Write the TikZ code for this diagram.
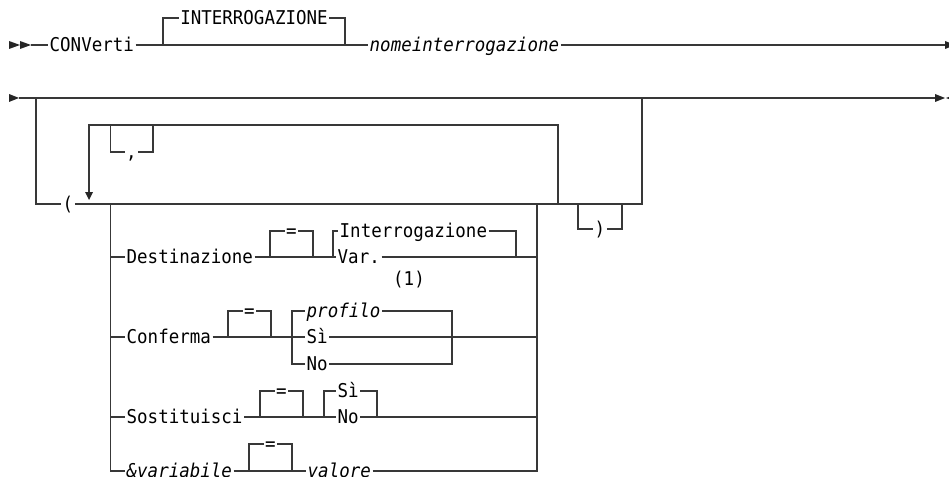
\documentclass[tikz,border=0pt]{standalone}
\usepackage{fontspec}
\newfontfamily\rrfont{DejaVu Sans Mono}[FakeStretch=0.92,ItalicFont={DejaVu Sans Mono Oblique}]
\tikzset{
  kw/.style  ={font=\rrfont\fontsize{19}{22}\selectfont, inner xsep=1.5pt,
               inner ysep=0pt, text height=13.6pt, text depth=0pt},
  vr/.style  ={kw, font=\rrfont\itshape\fontsize{19}{22}\selectfont},
  ln/.style  ={draw=black!78, line width=1.2pt},
  tip/.style ={fill=black!85},
}
\begin{document}
\begin{tikzpicture}[x=1pt,y=-1pt]
\useasboundingbox (0,0) rectangle (949,476);

% first line
\fill[tip] (9,41) -- (20,45) -- (9,49) -- cycle;
\fill[tip] (20,41) -- (31,45) -- (20,49) -- cycle;
\node[kw,anchor=west] (conv) at (48,45) {CONVerti};
\node[kw] (intq) at (254,18) {INTERROGAZIONE};
\node[vr,anchor=west] (nome) at (368,45) {nomeinterrogazione};
\coordinate (r1a) at (31,45);
\coordinate (r1b) at (945,45);
\coordinate (bpL) at (163,45);
\coordinate (bpR) at (345,45);
\draw[ln] (r1a) -- (conv.west) (conv.east) -- (nome.west) (nome.east) -- (r1b);
\draw[ln] (bpL) |- (intq.west) (intq.east) -| (bpR);
\fill[tip] (945,41) -- (955,45) -- (945,49) -- cycle;

% second line
\fill[tip] (9,94) -- (19,98) -- (9,102) -- cycle;
\coordinate (r2a) at (19,98);
\coordinate (r2b) at (935,98);
\draw[ln] (r2a) -- (r2b);
\draw[line width=2.2pt,black!78] (648,98) -- (668,98);
\fill[tip] (935,94) -- (945,98) -- (935,102) -- cycle;
\fill[tip] (956,94) -- (946,98) -- (956,102) -- cycle;

% optional group with parentheses
\node[kw] (lpar) at (68,204) {(};
\coordinate (gL) at (36,98);
\coordinate (gR) at (642,98);
\draw[ln] (gL) |- (lpar.west);
\draw[ln] (lpar.east) -| (gR);
\node[kw] (rpar) at (600,229) {)};
\draw[ln] (578,204) |- (rpar.west) (rpar.east) -| (622,204);

% repeat loop
\coordinate (lpA) at (89,192);
\coordinate (lpB) at (558,204);
\draw[ln] (lpA) |- (558,125) -- (lpB);
\fill[tip] (85,192) -- (93,192) -- (89,200) -- cycle;
\node[kw] (comma) at (131.5,152) {,};
\draw[ln] (110.7,125) |- (comma.west) (comma.east) -| (153,125);

% choice stack
\coordinate (cL) at (110.7,204);
\coordinate (cR) at (537,204);

\node[kw,anchor=west] (dest) at (125,257) {Destinazione};
\node[kw] (deq) at (291.5,231) {=};
\node[kw,anchor=west] (dint) at (338,231) {Interrogazione};
\node[kw,anchor=west] (dvar) at (336,257) {Var.};
\draw[ln] (cL |- dest.west) -- (dest.west) (dest.east) -- (dvar.west) (dvar.east) -- (cR |- dvar.east);
\draw[ln] (270,257) |- (deq.west) (deq.east) -| (313,257);
\draw[ln] (333,257) |- (dint.west) (dint.east) -| (516,257);

\node[kw] (fn) at (409,279) {(1)};

\node[kw,anchor=west] (conf) at (125,337) {Conferma};
\node[kw] (ceq) at (249.5,311) {=};
\node[vr,anchor=west] (cprf) at (305,311) {profilo};
\node[kw,anchor=west] (csi) at (305,337) {Sì};
\node[kw,anchor=west] (cno) at (305,364) {No};
\draw[ln] (cL |- conf.west) -- (conf.west) (conf.east) -- (csi.west) (csi.east) -- (cR |- csi.east);
\draw[ln] (228,337) |- (ceq.west) (ceq.east) -| (271,337);
\draw[ln] (cno.west) -| (292,311) -- (cprf.west);
\draw[ln] (cprf.east) -| (452,364) -- (cno.east);

\node[kw,anchor=west] (sost) at (125,417) {Sostituisci};
\node[kw] (seq) at (281.5,391) {=};
\node[kw,anchor=west] (ssi) at (336,391) {Sì};
\node[kw,anchor=west] (sno) at (336,417) {No};
\draw[ln] (cL |- sost.west) -- (sost.west) (sost.east) -- (sno.west) (sno.east) -- (cR |- sno.east);
\draw[ln] (260,417) |- (seq.west) (seq.east) -| (303,417);
\draw[ln] (324,417) |- (ssi.west) (ssi.east) -| (377,417);

\node[vr,anchor=west] (varb) at (125,471) {\&variabile};
\node[kw] (veq) at (270.5,444) {=};
\node[vr,anchor=west] (valo) at (306,471) {valore};
\draw[ln] (cL) |- (varb.west) (varb.east) -- (valo.west) (valo.east) -| (cR);
\draw[ln] (249,471) |- (veq.west) (veq.east) -| (292,471);
\end{tikzpicture}
\end{document}
